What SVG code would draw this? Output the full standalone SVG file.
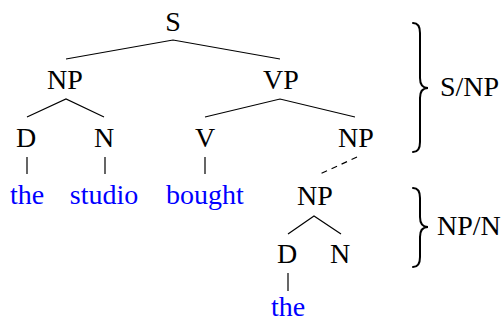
<svg xmlns="http://www.w3.org/2000/svg" width="503" height="322" viewBox="0 0 503 322">
<style>
text{font-family:'Liberation Serif','Tinos','Times New Roman','Nimbus Roman','DejaVu Serif','Noto Serif',Times,serif;font-size:28px;text-anchor:middle;fill:#000}
.w{fill:#0000ff}
.lab{text-anchor:start}
.e{stroke:#000;stroke-width:1.2;fill:none}
.d{stroke-dasharray:6,5}
.br{stroke:#000;stroke-width:2;fill:none;stroke-linecap:round}
</style>
<rect width="503" height="322" fill="#fff"/>
<g id="connectors">
<path class="e" d="M66,59 L173,40 L280,59"/>
<path class="e" d="M27,117 L66,99 L104,117"/>
<path class="e" d="M205,117 L280,99 L355,117"/>
<path class="e" d="M27,157 V174 M105,157 V174 M205,157 V174"/>
<path class="e d" d="M357,157 L320,174"/>
<path class="e" d="M288,234 L314,216 L341,234"/>
<path class="e" d="M288,273 V291"/>
</g>
<g id="S"><text x="173" y="31">S</text></g>
<g id="NP1"><text x="65" y="89">NP</text></g>
<g id="VP"><text x="281" y="89">VP</text></g>
<g id="D1"><text x="26" y="147">D</text></g>
<g id="N1"><text x="104" y="147">N</text></g>
<g id="V"><text x="205" y="147">V</text></g>
<g id="NP2"><text x="356" y="147">NP</text></g>
<g id="the1"><text class="w" x="27" y="204">the</text></g>
<g id="studio"><text class="w" x="104" y="204">studio</text></g>
<g id="bought"><text class="w" x="205" y="204">bought</text></g>
<g id="NP3"><text x="315" y="205">NP</text></g>
<g id="D2"><text x="287" y="263">D</text></g>
<g id="N2"><text x="340" y="263">N</text></g>
<g id="the2"><text class="w" x="288" y="316">the</text></g>
<g id="brace1">
<path class="br" d="M413,23 Q420,23 420,33 L420,78 Q420,88 428,88 Q420,88 420,98 L420,142 Q420,152 413,152"/>
<text class="lab" x="440" y="96">S/NP</text>
</g>
<g id="brace2">
<path class="br" d="M413,188 Q420,188 420,198 L420,217 Q420,227 428,227 Q420,227 420,237 L420,257 Q420,267 413,267"/>
<text class="lab" x="437" y="235">NP/N</text>
</g>
</svg>
